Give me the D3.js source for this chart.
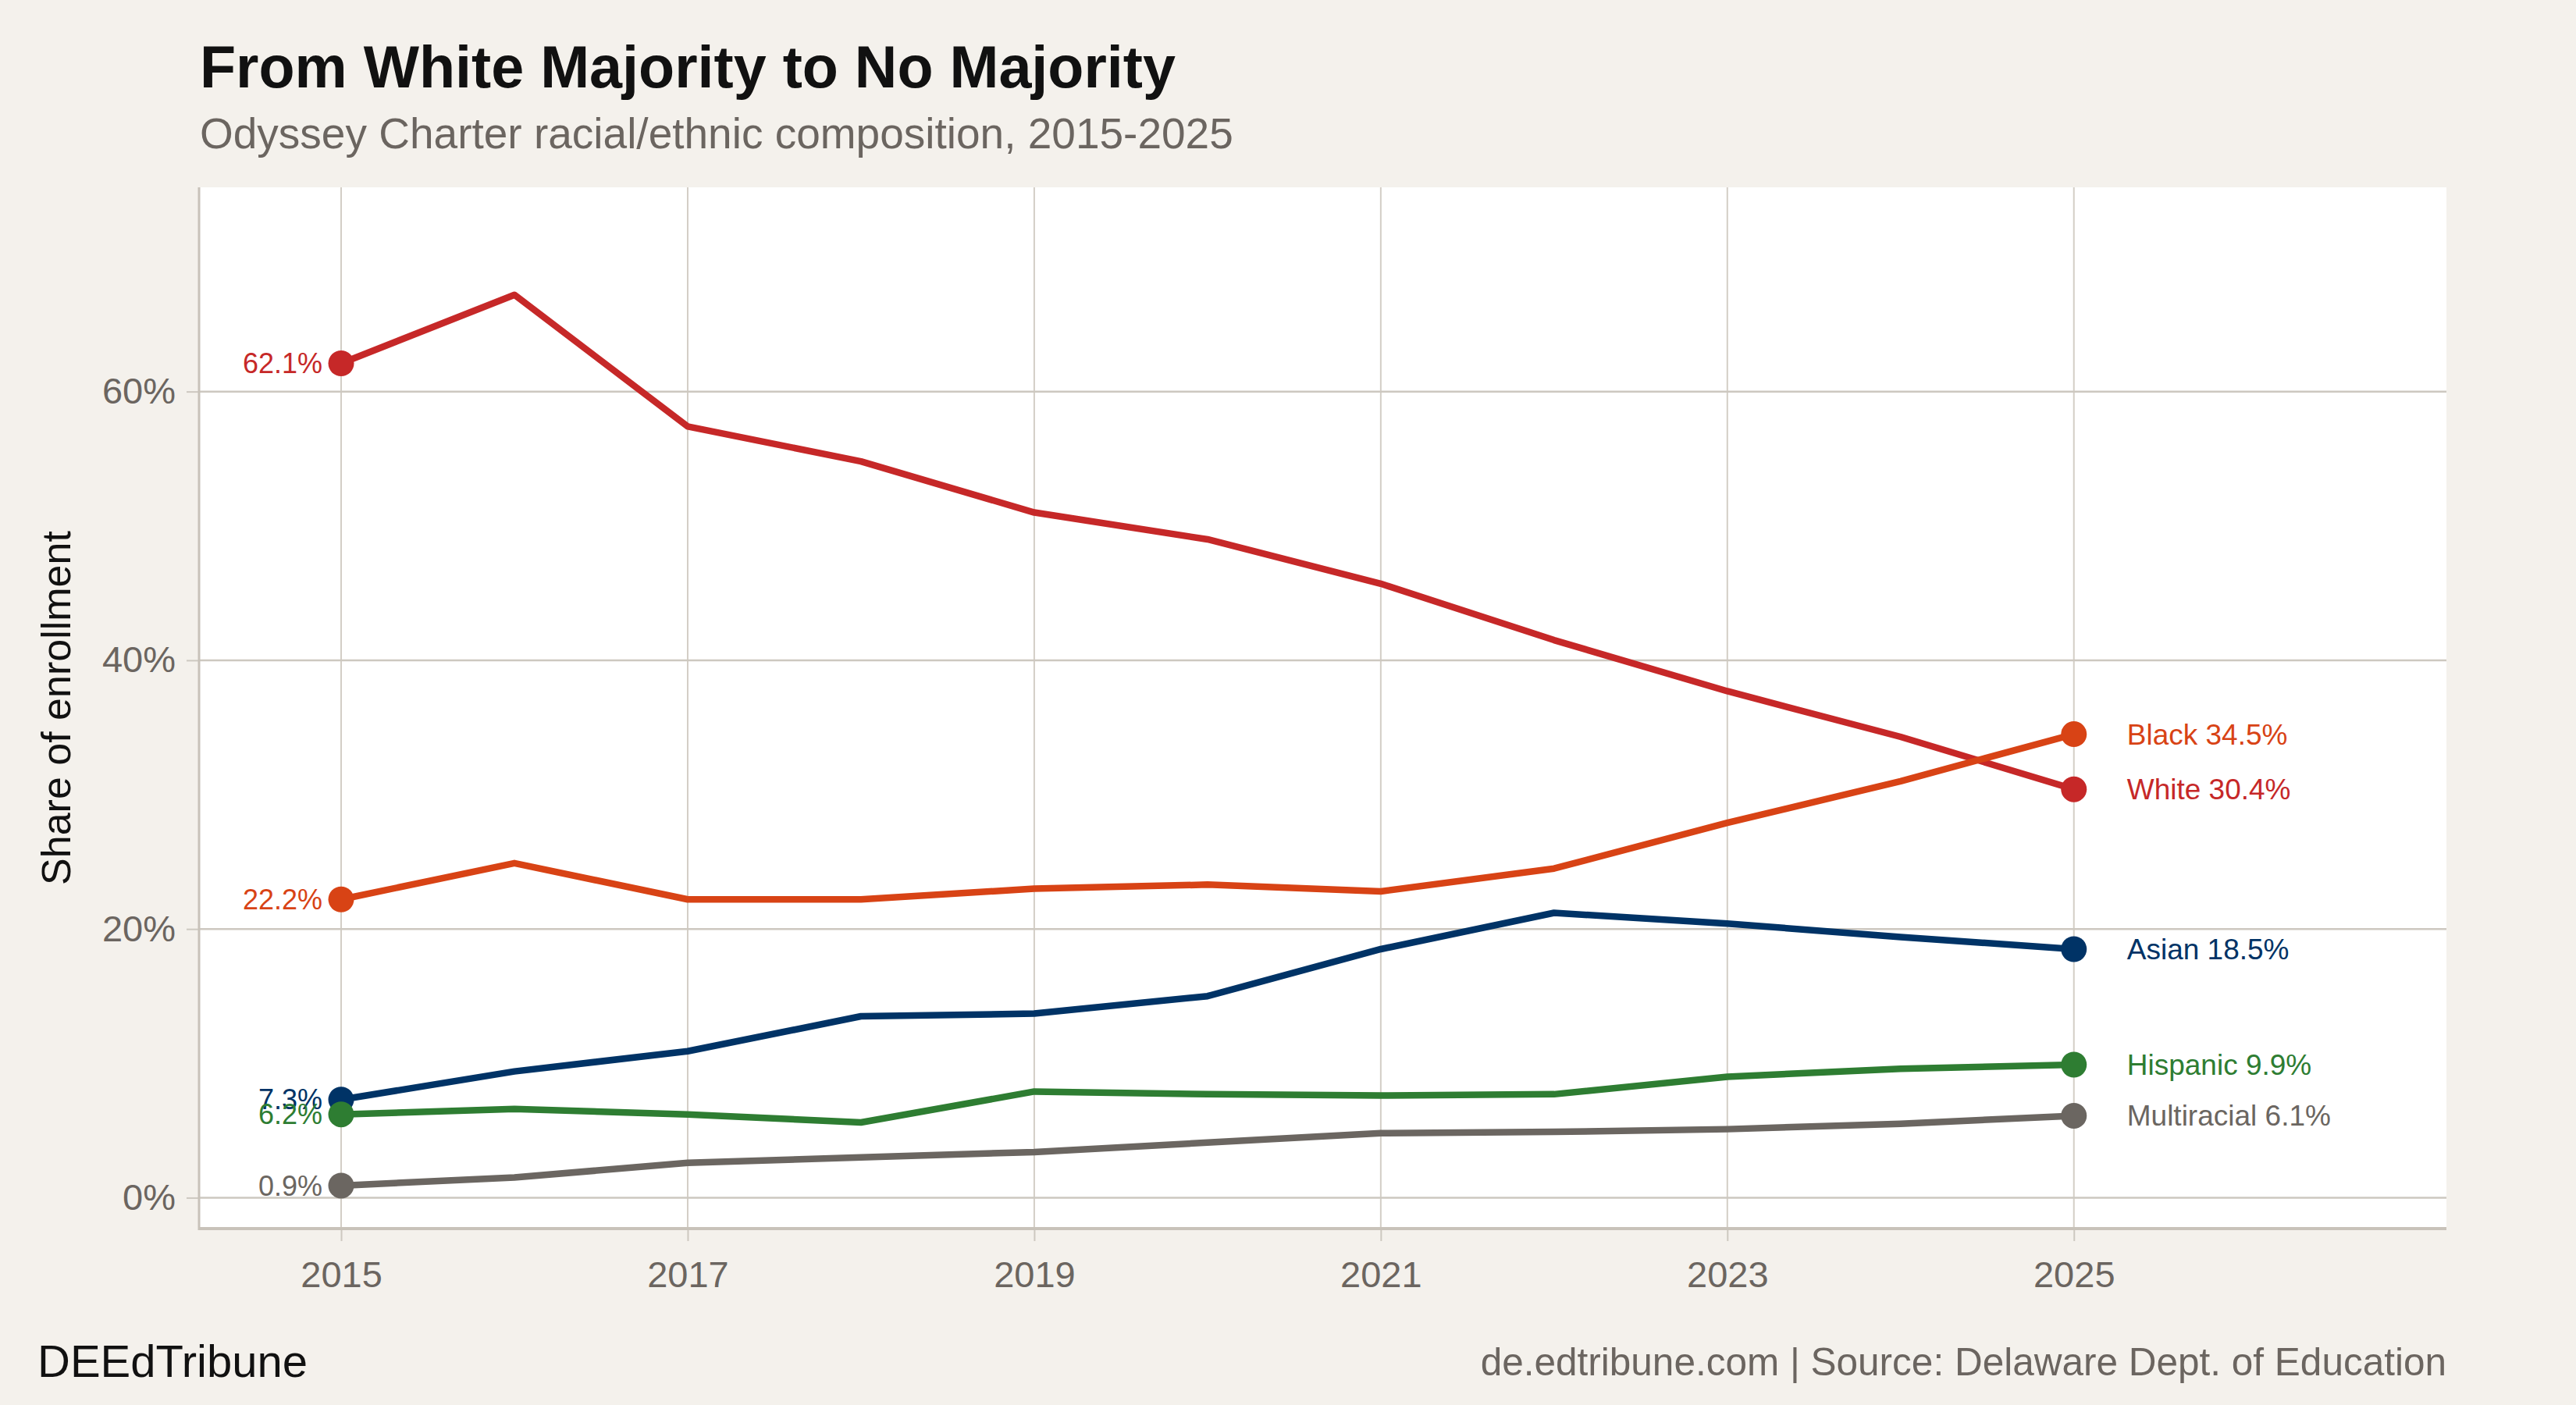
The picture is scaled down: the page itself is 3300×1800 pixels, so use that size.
<!DOCTYPE html>
<html>
<head>
<meta charset="utf-8">
<script src="https://cdn.jsdelivr.net/npm/d3@7"></script>
<style>
  body { margin: 0; background: #f4f1ec; }
  svg { display: block; font-family: "Liberation Sans", Arial, sans-serif; }
</style>
</head>
<body>
<script>
// enrollment shares, 2015-2025
var years = [2015, 2016, 2017, 2018, 2019, 2020, 2021, 2022, 2023, 2024, 2025];
var white = [62.1, 67.2, 57.4, 54.8, 51.0, 49.0, 45.7, 41.5, 37.7, 34.3, 30.4];
var black = [22.2, 24.9, 22.2, 22.2, 23.0, 23.3, 22.8, 24.5, 27.9, 31.0, 34.5];
var asian = [7.3, 9.4, 10.9, 13.5, 13.7, 15.0, 18.5, 21.2, 20.4, 19.4, 18.5];
var hispanic = [6.2, 6.6, 6.2, 5.6, 7.9, 7.7, 7.6, 7.7, 9.0, 9.6, 9.9];
var multiracial = [0.9, 1.5, 2.6, 3.0, 3.4, 4.1, 4.8, 4.9, 5.1, 5.5, 6.1];

var seriesNames = ["White", "Black", "Asian", "Hispanic", "Multiracial"];
var seriesValues = [white, black, asian, hispanic, multiracial];
var seriesColors = ["#c62828", "#d84315", "#003366", "#2e7d32", "#6b6661"];

var xTicks = [2015, 2017, 2019, 2021, 2023, 2025];
var yTicks = [0, 20, 40, 60];

var W = 3300, H = 1800;
// plot panel edges (note: "top" is a reserved window global, so use pTop)
var pLeft = 255, pRight = 3134, pTop = 240, pBottom = 1574;

var svg = d3.select("body").append("svg")
    .attr("width", W)
    .attr("height", H);

svg.append("rect")
    .attr("width", W).attr("height", H)
    .attr("fill", "#f4f1ec");

var x = d3.scaleLinear().domain([2014.18, 2027.15]).range([pLeft, pRight]);
var y = d3.scaleLinear().domain([-2.3, 75.2]).range([pBottom, pTop]);

// white plot panel
svg.append("rect")
    .attr("x", pLeft).attr("y", pTop)
    .attr("width", pRight - pLeft).attr("height", pBottom - pTop)
    .attr("fill", "#ffffff");

// grid
svg.append("g").selectAll("line")
    .data(xTicks)
    .enter().append("line")
    .attr("x1", function(d) { return x(d); })
    .attr("x2", function(d) { return x(d); })
    .attr("y1", pTop).attr("y2", pBottom)
    .attr("stroke", "#d3cec6")
    .attr("stroke-width", 2);

svg.append("g").selectAll("line")
    .data(yTicks)
    .enter().append("line")
    .attr("x1", pLeft).attr("x2", pRight)
    .attr("y1", function(d) { return y(d); })
    .attr("y2", function(d) { return y(d); })
    .attr("stroke", "#cdc8c0")
    .attr("stroke-width", 2.5);

// axes
var xAxis = svg.append("g")
    .attr("transform", "translate(0," + pBottom + ")")
    .call(d3.axisBottom(x).tickValues(xTicks).tickFormat(d3.format("d")).tickSize(16).tickPadding(26));
var yAxis = svg.append("g")
    .attr("transform", "translate(" + pLeft + ",0)")
    .call(d3.axisLeft(y).tickValues(yTicks).tickFormat(function(d) { return d + "%"; }).tickSize(16).tickPadding(14));

[xAxis, yAxis].forEach(function(a) {
    a.select(".domain").remove();
    a.selectAll(".tick line").attr("stroke", "#cdc8c0").attr("stroke-width", 2);
    a.selectAll(".tick text")
        .attr("fill", "#6b6560")
        .attr("font-size", 47)
        .attr("font-family", "Liberation Sans, Arial, sans-serif");
});

// axis lines
svg.append("line")
    .attr("x1", pLeft).attr("x2", pLeft).attr("y1", pTop).attr("y2", pBottom + 2)
    .attr("stroke", "#c8c2b9").attr("stroke-width", 3);
svg.append("line")
    .attr("x1", pLeft).attr("x2", pRight).attr("y1", pBottom).attr("y2", pBottom)
    .attr("stroke", "#c8c2b9").attr("stroke-width", 4);

// lines
var line = d3.line()
    .x(function(d, i) { return x(years[i]); })
    .y(function(d) { return y(d); });

svg.append("g").selectAll("path")
    .data(seriesValues)
    .enter().append("path")
    .attr("d", line)
    .attr("fill", "none")
    .attr("stroke", function(d, i) { return seriesColors[i]; })
    .attr("stroke-width", 8.5)
    .attr("stroke-linejoin", "round");

// start and end dots
var last = years.length - 1;
var dots = svg.append("g");
seriesValues.forEach(function(vals, i) {
    dots.append("circle")
        .attr("cx", x(years[0])).attr("cy", y(vals[0]))
        .attr("r", 16.5).attr("fill", seriesColors[i]);
    dots.append("circle")
        .attr("cx", x(years[last])).attr("cy", y(vals[last]))
        .attr("r", 16.5).attr("fill", seriesColors[i]);
});

// start labels
svg.append("g").selectAll("text")
    .data(seriesValues)
    .enter().append("text")
    .attr("x", x(years[0]) - 24)
    .attr("y", function(d) { return y(d[0]); })
    .attr("dy", "0.35em")
    .attr("text-anchor", "end")
    .attr("font-size", 36)
    .attr("fill", function(d, i) { return seriesColors[i]; })
    .text(function(d) { return d[0].toFixed(1) + "%"; });

// end labels
svg.append("g").selectAll("text")
    .data(seriesValues)
    .enter().append("text")
    .attr("x", x(years[last]) + 68)
    .attr("y", function(d) { return y(d[last]); })
    .attr("dy", "0.35em")
    .attr("font-size", 37)
    .attr("fill", function(d, i) { return seriesColors[i]; })
    .text(function(d, i) { return seriesNames[i] + " " + d[last].toFixed(1) + "%"; });

// titles
svg.append("text")
    .attr("x", 256).attr("y", 112)
    .attr("font-size", 75.5)
    .attr("font-weight", "bold")
    .attr("fill", "#111111")
    .text("From White Majority to No Majority");

svg.append("text")
    .attr("x", 256).attr("y", 190)
    .attr("font-size", 55)
    .attr("fill", "#6b6560")
    .text("Odyssey Charter racial/ethnic composition, 2015-2025");

svg.append("text")
    .attr("transform", "translate(90," + ((pTop + pBottom) / 2) + ") rotate(-90)")
    .attr("text-anchor", "middle")
    .attr("font-size", 52)
    .attr("fill", "#111111")
    .text("Share of enrollment");

// footer
svg.append("text")
    .attr("x", 48).attr("y", 1764)
    .attr("font-size", 58)
    .attr("fill", "#111111")
    .text("DEEdTribune");

svg.append("text")
    .attr("x", pRight).attr("y", 1762)
    .attr("text-anchor", "end")
    .attr("font-size", 49.5)
    .attr("fill", "#6b6560")
    .text("de.edtribune.com | Source: Delaware Dept. of Education");
</script>
</body>
</html>
